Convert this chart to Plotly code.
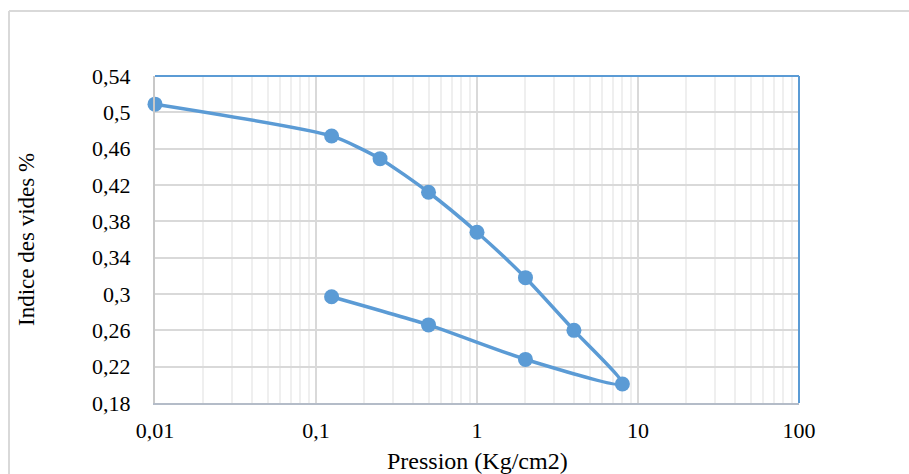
import plotly.graph_objects as go

pression = [0.01, 0.125, 0.25, 0.5, 1, 2, 4, 8, 2, 0.5, 0.125]
indice = [0.509, 0.474, 0.449, 0.412, 0.368, 0.318, 0.260, 0.201, 0.228, 0.266, 0.297]

x_tickvals = [0.01, 0.1, 1, 10, 100]
x_ticktext = ["0,01", "0,1", "1", "10", "100"]
y_tickvals = [0.18, 0.22, 0.26, 0.30, 0.34, 0.38, 0.42, 0.46, 0.50, 0.54]
y_ticktext = ["0,18", "0,22", "0,26", "0,3", "0,34", "0,38", "0,42", "0,46", "0,5", "0,54"]

BLUE = "#5b9bd5"
FONT = "Liberation Serif"

W, H = 909, 474
L, R, T, B = 155, 110, 76, 71
pw, ph = W - L - R, H - T - B

def px_x(p):
    return (p - L) / pw

def px_y(p):
    return (H - B - p) / ph

fig = go.Figure()
fig.add_trace(go.Scatter(
    x=pression, y=indice, mode="lines+markers",
    line=dict(color=BLUE, width=3.5, shape="spline", smoothing=0.6),
    marker=dict(color=BLUE, size=15),
    cliponaxis=False, showlegend=False,
))

fig.update_layout(
    width=W, height=H, autosize=False,
    margin=dict(l=L, r=R, t=T, b=B, pad=0),
    paper_bgcolor="white", plot_bgcolor="white",
    font=dict(family=FONT, color="black", size=21),
    xaxis=dict(
        type="log", range=[-2, 2],
        tickmode="array", tickvals=x_tickvals, ticktext=x_ticktext,
        showgrid=True, gridcolor="#d9d9d9", gridwidth=1.5,
        minor=dict(dtick="D1", showgrid=True, gridcolor="#efefef", gridwidth=1.5, ticks=""),
        showline=True, linecolor="#b4bcc8", linewidth=2,
        ticks="outside", ticklen=7, tickcolor="rgba(0,0,0,0)",
        tickfont=dict(family=FONT, size=22, color="black"),
        zeroline=False,
    ),
    yaxis=dict(
        range=[0.18, 0.54],
        tickmode="array", tickvals=y_tickvals, ticktext=y_ticktext,
        showgrid=True, gridcolor="#d9d9d9", gridwidth=1.5,
        showline=True, linecolor="#c8c8c8", linewidth=2,
        ticks="outside", ticklen=18, tickcolor="rgba(0,0,0,0)",
        tickfont=dict(family=FONT, size=22, color="black"),
        zeroline=False,
    ),
    annotations=[
        dict(text="Pression (Kg/cm2)", xref="paper", yref="paper",
             x=0.5, y=px_y(461), xanchor="center", yanchor="middle",
             showarrow=False, font=dict(family=FONT, size=24, color="black")),
        dict(text="Indice des vides %", xref="paper", yref="paper",
             x=px_x(27), y=px_y(240), xanchor="center", yanchor="middle",
             textangle=-90, showarrow=False,
             font=dict(family=FONT, size=23, color="black")),
    ],
    shapes=[
        dict(type="line", xref="paper", yref="paper", x0=0, x1=1, y0=1, y1=1,
             line=dict(color=BLUE, width=2)),
        dict(type="line", xref="paper", yref="paper", x0=1, x1=1, y0=0, y1=1,
             line=dict(color=BLUE, width=2)),
        dict(type="line", xref="paper", yref="paper",
             x0=px_x(9), x1=px_x(W + 5), y0=px_y(11), y1=px_y(11),
             line=dict(color="#d9d9d9", width=2)),
        dict(type="line", xref="paper", yref="paper",
             x0=px_x(9), x1=px_x(9), y0=px_y(11), y1=px_y(H + 5),
             line=dict(color="#d9d9d9", width=2)),
    ],
)

fig.write_html("out.html")
